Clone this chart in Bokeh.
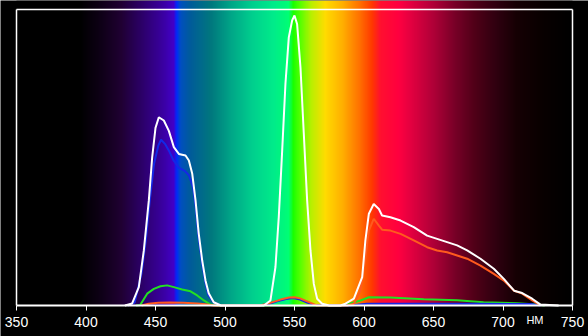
import numpy as np
from bokeh.plotting import figure
from bokeh.models import Label, FixedTicker
from bokeh.embed import file_html
from bokeh.resources import INLINE

# ---- data ----
ticks = [350, 400, 450, 500, 550, 600, 650, 700, 750]
unit_label = "НМ"

white_nm = [428, 433.2, 438, 441.6, 445.2, 447.6, 450, 452.4, 456, 459.6, 463.2, 466.8, 471.6, 474,
            476.4, 478.8, 481.1, 483.6, 486, 488.3, 491.9, 497, 528, 532.7, 536.3, 538.7, 541.1,
            543.5, 545.9, 548.3, 550, 551.9, 554.3, 556.7, 559.1, 561.5, 563.9, 566.3, 569.9, 575,
            583, 586.7, 592.7, 598.7, 601, 603.5, 607, 610.7, 613, 619, 626.3, 635.8, 645.4, 652.6,
            659.8, 667, 674.2, 683.8, 693.4, 700.6, 708, 713.8, 721, 727, 740]
white_val = [0, 0.007, 0.062, 0.186, 0.355, 0.50, 0.60, 0.636, 0.625, 0.59, 0.535, 0.512, 0.507, 0.49,
             0.446, 0.355, 0.243, 0.152, 0.084, 0.041, 0.011, 0.0, 0.0, 0.017, 0.13, 0.30, 0.52,
             0.75, 0.906, 0.963, 0.98, 0.95, 0.805, 0.58, 0.355, 0.186, 0.073, 0.023, 0.006, 0.0,
             0.0, 0.006, 0.023, 0.096, 0.22, 0.31, 0.343, 0.326, 0.304, 0.298, 0.287, 0.265, 0.236, 0.225,
             0.214, 0.203, 0.186, 0.158, 0.124, 0.09, 0.05, 0.042, 0.023, 0.003, 0.0]

blue_nm = [430, 435, 440, 443, 446, 449, 452, 454, 457, 460, 463, 467, 471, 474, 477, 479, 481, 483.6,
           486, 488, 492, 497, 525, 532, 538, 544, 549, 554, 559, 564, 590, 602, 640, 680, 720, 727]
blue_val = [0, 0.01, 0.11, 0.22, 0.36, 0.48, 0.54, 0.56, 0.545, 0.52, 0.49, 0.465, 0.455, 0.44, 0.40,
            0.33, 0.23, 0.14, 0.075, 0.035, 0.01, 0.0, 0.0, 0.006, 0.015, 0.022, 0.025, 0.02, 0.01, 0.002,
            0.0, 0.006, 0.006, 0.006, 0.005, 0.0]

green_nm = [436, 439, 444, 448.8, 453.6, 458.4, 463.2, 469.2, 475.2, 480, 484.8, 489.6, 495,
            585, 588, 597.5, 603.5, 619, 643, 667, 686, 710, 724.6, 730]
green_val = [0, 0.002, 0.04, 0.056, 0.065, 0.068, 0.062, 0.054, 0.048, 0.034, 0.017, 0.003, 0.0,
             0.0, 0.004, 0.017, 0.028, 0.027, 0.021, 0.018, 0.011, 0.008, 0.003, 0.0]

red_nm = [440, 445, 452, 460, 470, 480, 486, 492, 525, 532, 540, 546, 550, 554, 560, 566,
          588, 592.7, 597.5, 601, 603.5, 607, 610.7, 613, 619, 626.3, 635.8, 645.4, 652.6, 659.8,
          667, 674.2, 683.8, 693.4, 700.6, 708, 713.8, 721, 727]
red_val = [0, 0.006, 0.009, 0.01, 0.009, 0.007, 0.004, 0.0, 0.0, 0.008, 0.02, 0.027, 0.028, 0.024,
           0.012, 0.0, 0.0, 0.006, 0.05, 0.163, 0.253, 0.293, 0.27, 0.256, 0.253, 0.242, 0.22, 0.197,
           0.186, 0.18, 0.169, 0.158, 0.135, 0.107, 0.084, 0.05, 0.04, 0.017, 0.0]

# ---- spectrum background style stops ----
spec_nm = [350, 395, 410, 425, 440, 455, 463, 465, 468, 475, 490, 505, 520, 535, 546, 549, 555,
           562, 572, 585, 597, 606, 612, 625, 635, 650, 665, 680, 695, 710, 730, 750]
spec_col = ["#000000", "#000000", "#0e0016", "#200032", "#2c0068", "#3a00a0", "#4200c8", "#0028ff",
            "#0050c0", "#005c9a", "#00787e", "#00a888", "#00d08e", "#00ec8a", "#00ff74", "#18ff00",
            "#60ff00", "#b8f000", "#ffdc00", "#ffae00", "#ff7000", "#ff3800", "#ff1030", "#ff0040",
            "#e00040", "#b00038", "#7a0028", "#500018", "#300010", "#160004", "#080000", "#000000"]

PX = 296.0                      # pixels per unit of value
ymax = 305 / PX                 # spectrum reaches the top of the picture
ymin = -31 / PX                 # room below the axis for its labels
xmin, xmax = ticks[0], ticks[-1]
PXNM = 556 / (xmax - xmin)      # pixels per nm
pad = 16 / PXNM                 # side margins kept inside the frame

p = figure(width=588, height=336, x_range=(xmin - pad, xmax + pad), y_range=(ymin, ymax),
           output_backend="svg", toolbar_location=None, y_axis_location=None,
           min_border_left=0, min_border_right=0, min_border_top=0, min_border_bottom=0)
p.background_fill_color = "black"
p.border_fill_color = "black"
p.outline_line_color = None
p.xgrid.visible = False
p.ygrid.visible = False

# spectrum image
xs = np.linspace(xmin, xmax, 801)
rgb = np.array([[int(c[1:3], 16), int(c[3:5], 16), int(c[5:7], 16)] for c in spec_col], dtype=float)
img = np.zeros((1, len(xs)), dtype=np.uint32)
view = img.view(dtype=np.uint8).reshape((1, len(xs), 4))
for k in range(3):
    view[0, :, k] = np.interp(xs, spec_nm, rgb[:, k]).astype(np.uint8)
view[0, :, 3] = 255
p.image_rgba(image=[img], x=xmin, y=0, dw=xmax - xmin, dh=ymax)

p.line(green_nm, green_val, line_color="#22e022", line_width=2)
p.line(blue_nm, blue_val, line_color="#1428e6", line_width=2)
p.line(red_nm, red_val, line_color="#ff5a1e", line_width=2)
p.line(white_nm, white_val, line_color="white", line_width=2)

# frame: left, right and top sides
p.segment(x0=[xmin, xmax, xmin], y0=[0, 0, 1.0], x1=[xmin, xmax, xmax], y1=[1.0, 1.0, 1.0],
          line_color="white", line_width=1.5)

ax = p.xaxis[0]
ax.fixed_location = 0
ax.bounds = (xmin, xmax)
ax.ticker = FixedTicker(ticks=ticks)
ax.axis_line_color = "white"
ax.axis_line_width = 2
ax.major_tick_line_color = "white"
ax.major_tick_line_width = 1
ax.major_tick_in = 0
ax.major_tick_out = 5
ax.minor_tick_line_color = None
ax.major_label_text_color = "white"
ax.major_label_text_font = "Liberation Sans"
ax.major_label_text_font_size = "14px"
ax.major_label_standoff = 6

p.add_layout(Label(x=723, y=-14 / PX, text=unit_label,
                   text_color="white", text_font="Liberation Sans", text_font_size="11px",
                   text_align="center", text_baseline="middle"))

open("out.html", "w").write(file_html(p, INLINE))
